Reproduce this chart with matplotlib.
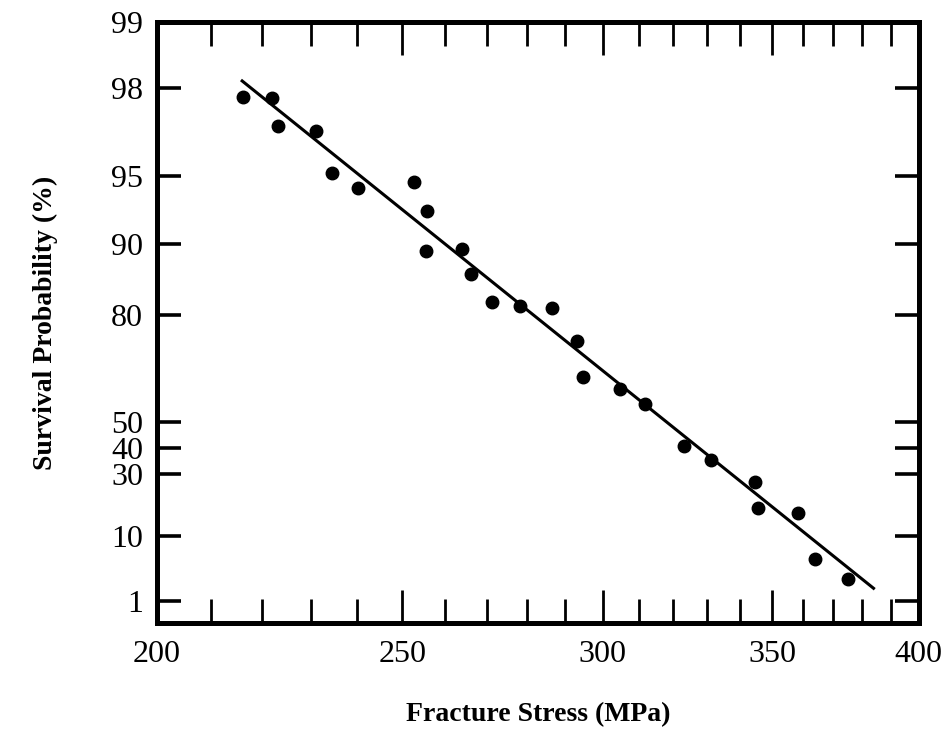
import numpy as np
import matplotlib
matplotlib.use('Agg')
import matplotlib.pyplot as plt
from matplotlib.ticker import FixedLocator, FixedFormatter, NullLocator, NullFormatter

# fracture stress (MPa) and survival probability (%)
stress = [216.3, 222.1, 223.2, 231.2, 234.5, 240.2, 252.7, 255.7, 255.5, 264.0,
          266.2, 271.2, 278.4, 286.4, 293.0, 294.8, 304.8, 311.8, 323.1, 331.1,
          344.6, 345.6, 358.3, 364.1, 375.1]
survival = [97.81, 97.77, 97.03, 96.87, 95.14, 94.34, 94.70, 92.86, 89.22, 89.46,
            86.56, 82.37, 81.67, 81.22, 74.53, 64.94, 61.36, 56.31, 41.06, 35.50,
            27.18, 17.80, 16.39, 5.22, 2.57]

# fitted Weibull line end points
fit_stress = [216.1, 383.9]
fit_survival = [98.14, 1.79]

y_ticks = [99, 98, 95, 90, 80, 50, 40, 30, 10, 1]
x_ticks = [200, 250, 300, 350, 400]
x_minor = [210, 220, 230, 240, 260, 270, 280, 290, 310, 320, 330, 340, 360, 370, 380, 390]


# Weibull probability scale
def fwd(p):
    p = np.clip(np.asarray(p, dtype=float), 1e-9, 100 - 1e-9)
    return -np.log(-np.log(p / 100.0))


def inv(t):
    return 100.0 * np.exp(-np.exp(-np.asarray(t, dtype=float)))


plt.rcParams['font.family'] = ['Liberation Serif', 'DejaVu Serif']

fig = plt.figure(figsize=(9.52, 7.29), dpi=100)
ax = fig.add_axes([0.165, 0.1454, 0.8, 0.8246])

ax.plot(stress, survival, 'o', color='black', markersize=9)
ax.plot(fit_stress, fit_survival, '-', color='black', linewidth=2.2)

ax.set_xscale('log')
ax.set_yscale('function', functions=(fwd, inv))
ax.set_xlim(200, 400)
ax.set_ylim(0.30, 99)

ax.xaxis.set_major_locator(FixedLocator(x_ticks))
ax.xaxis.set_major_formatter(FixedFormatter([str(v) for v in x_ticks]))
ax.xaxis.set_minor_locator(FixedLocator(x_minor))
ax.xaxis.set_minor_formatter(NullFormatter())
ax.yaxis.set_major_locator(FixedLocator(y_ticks))
ax.yaxis.set_major_formatter(FixedFormatter([str(v) for v in y_ticks]))
ax.yaxis.set_minor_locator(NullLocator())

ax.tick_params(axis='x', which='major', direction='in', top=True, bottom=True,
               length=24, width=2, labelsize=23, pad=12)
ax.tick_params(axis='x', which='minor', direction='in', top=True, bottom=True,
               length=17, width=2)
ax.tick_params(axis='y', which='major', direction='in', left=True, right=True,
               length=17, width=2.6, labelsize=23, pad=10)

for s in ax.spines.values():
    s.set_linewidth(3.6)

ax.set_xlabel('Fracture Stress (MPa)', fontsize=20, fontweight='bold', labelpad=24)
ax.set_ylabel('Survival Probability (%)', fontsize=20, fontweight='bold', labelpad=38)

fig.savefig('out.png', dpi=100)
